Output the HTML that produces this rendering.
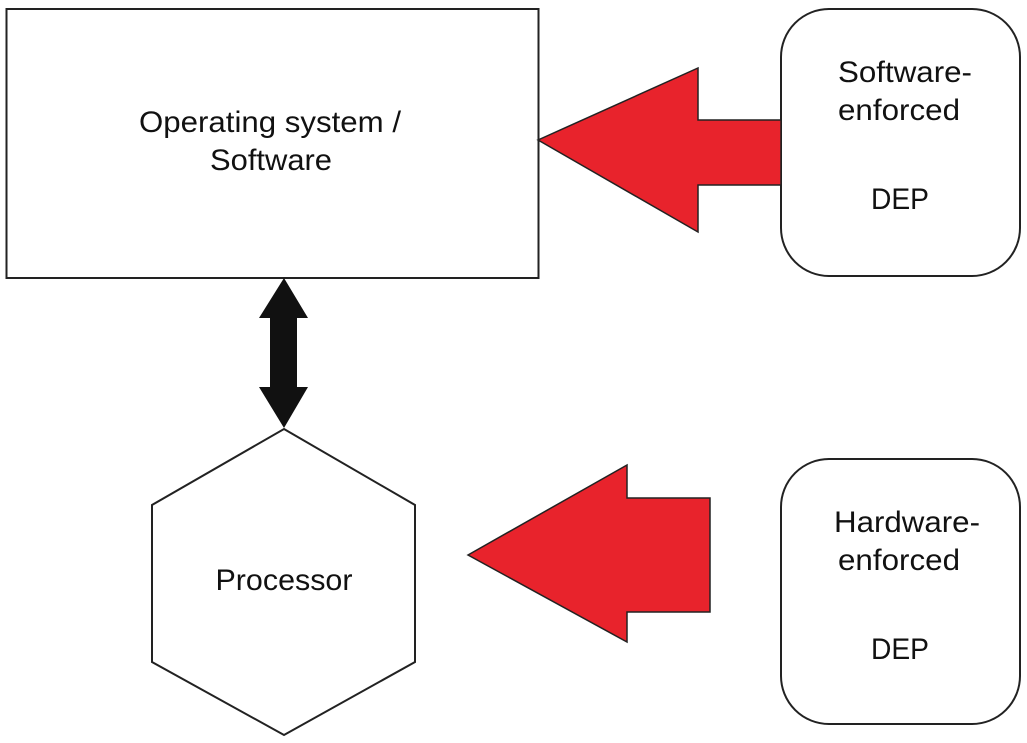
<!DOCTYPE html>
<html><head><meta charset="utf-8"><style>html,body{margin:0;padding:0;background:#fff}</style></head>
<body>
<svg width="1027" height="738" viewBox="0 0 1027 738" xmlns="http://www.w3.org/2000/svg" font-family="Liberation Sans, sans-serif" font-size="30" fill="#111">
<rect x="6.5" y="9" width="532" height="269" fill="#fff" stroke="#222" stroke-width="2"/>
<rect x="781" y="9" width="239" height="267" rx="48" ry="48" fill="#fff" stroke="#222" stroke-width="2"/>
<rect x="781" y="459" width="239" height="265" rx="48" ry="48" fill="#fff" stroke="#222" stroke-width="2"/>
<polygon points="538,140 698,68 698,120 781,120 781,185 698,185 698,232" fill="#e8232c" stroke="#222" stroke-width="1.5"/>
<polygon points="468,555 627,465 627,498 710,498 710,612 627,612 627,642" fill="#e8232c" stroke="#222" stroke-width="1.5"/>
<polygon points="284,278 308,318 297,318 297,387 308,387 284,428 259,387 270,387 270,318 259,318" fill="#111"/>
<polygon points="284,429 415,505 415,662 284,735 152,662 152,505" fill="#fff" stroke="#222" stroke-width="2"/>
<g text-anchor="middle" lengthAdjust="spacingAndGlyphs">
<text x="270" y="132" textLength="262" lengthAdjust="spacingAndGlyphs">Operating system /</text>
<text x="271" y="170" textLength="122" lengthAdjust="spacingAndGlyphs">Software</text>
<text x="905" y="82" textLength="134" lengthAdjust="spacingAndGlyphs">Software-</text>
<text x="899" y="120" textLength="122" lengthAdjust="spacingAndGlyphs">enforced</text>
<text x="900" y="209" textLength="58" lengthAdjust="spacingAndGlyphs">DEP</text>
<text x="907" y="532" textLength="146" lengthAdjust="spacingAndGlyphs">Hardware-</text>
<text x="899" y="570" textLength="122" lengthAdjust="spacingAndGlyphs">enforced</text>
<text x="900" y="659" textLength="58" lengthAdjust="spacingAndGlyphs">DEP</text>
<text x="284" y="590" textLength="137" lengthAdjust="spacingAndGlyphs">Processor</text>
</g>
</svg>
</body></html>
